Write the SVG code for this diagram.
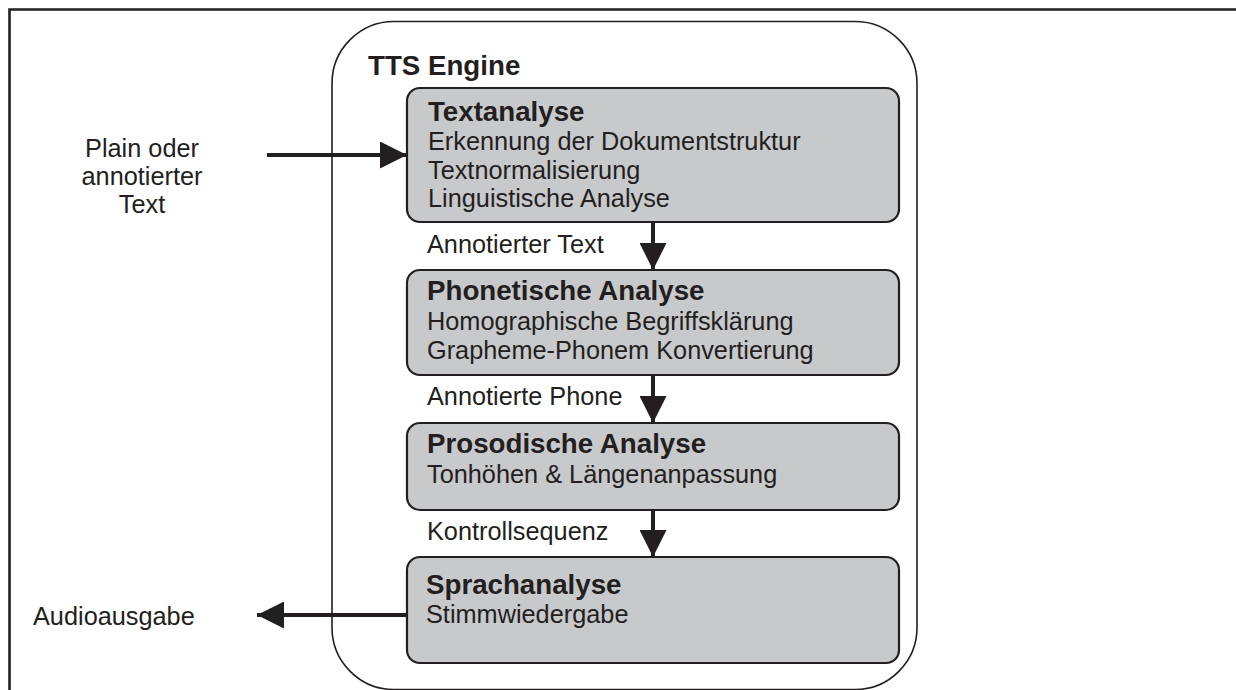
<svg xmlns="http://www.w3.org/2000/svg" width="1236" height="690" viewBox="0 0 1236 690">
  <style>
    text { font-family: "Liberation Sans", Arial, sans-serif; fill: #231f20; }
    .t { font-size: 27.7px; font-weight: bold; }
    .r { font-size: 25.3px; }
    .box { fill: #c8c9cb; stroke: #231f20; stroke-width: 2.2; }
    .engine { fill: #ffffff; stroke: #231f20; stroke-width: 1.6; }
    .flow { stroke: #231f20; stroke-width: 4; fill: none; }
    .head { fill: #231f20; }
  </style>
  <defs>
    <marker id="arrow" viewBox="0 0 27 27" refX="27" refY="13.5" markerWidth="27" markerHeight="27" markerUnits="userSpaceOnUse" orient="auto">
      <path class="head" d="M0,0 L27,13.5 L0,27 Z"/>
    </marker>
  </defs>

  <!-- page frame -->
  <path d="M9.5,690 V9.5 H1236" fill="none" stroke="#231f20" stroke-width="2.6"/>

  <!-- engine container -->
  <g id="engine">
    <rect class="engine" x="332" y="21.5" width="585" height="668" rx="62" ry="62"/>
    <text class="t" x="368" y="75">TTS Engine</text>
  </g>

  <!-- connectors -->
  <g id="connectors">
    <line class="flow" x1="267" y1="155" x2="407" y2="155" marker-end="url(#arrow)"/>
    <line class="flow" x1="653" y1="222" x2="653" y2="270" marker-end="url(#arrow)"/>
    <line class="flow" x1="653" y1="375" x2="653" y2="423" marker-end="url(#arrow)"/>
    <line class="flow" x1="653" y1="510" x2="653" y2="557" marker-end="url(#arrow)"/>
    <line class="flow" x1="407" y1="615" x2="257" y2="615" marker-end="url(#arrow)"/>
    <text class="r" x="427" y="253">Annotierter Text</text>
    <text class="r" x="427" y="405">Annotierte Phone</text>
    <text class="r" x="427" y="540">Kontrollsequenz</text>
  </g>

  <g id="input">
    <text class="r" x="142" y="157" text-anchor="middle">Plain oder</text>
    <text class="r" x="142" y="185" text-anchor="middle">annotierter</text>
    <text class="r" x="142" y="213" text-anchor="middle">Text</text>
  </g>

  <g id="output">
    <text class="r" x="33" y="625">Audioausgabe</text>
  </g>

  <g id="textanalyse">
    <rect class="box" x="407" y="88" width="492" height="134" rx="13"/>
    <text class="t" x="428" y="120.5">Textanalyse</text>
    <text class="r" x="428" y="150">Erkennung der Dokumentstruktur</text>
    <text class="r" x="428" y="178.5">Textnormalisierung</text>
    <text class="r" x="428" y="207">Linguistische Analyse</text>
  </g>

  <g id="phonetische-analyse">
    <rect class="box" x="407" y="270" width="492" height="105" rx="13"/>
    <text class="t" x="427" y="300">Phonetische Analyse</text>
    <text class="r" x="427" y="330">Homographische Begriffsklärung</text>
    <text class="r" x="427" y="359">Grapheme-Phonem Konvertierung</text>
  </g>

  <g id="prosodische-analyse">
    <rect class="box" x="407" y="423" width="492" height="87" rx="13"/>
    <text class="t" x="427" y="453">Prosodische Analyse</text>
    <text class="r" x="427" y="483">Tonhöhen &amp; Längenanpassung</text>
  </g>

  <g id="sprachanalyse">
    <rect class="box" x="407" y="557" width="492" height="106" rx="13"/>
    <text class="t" x="426" y="594">Sprachanalyse</text>
    <text class="r" x="426" y="623">Stimmwiedergabe</text>
  </g>
</svg>
